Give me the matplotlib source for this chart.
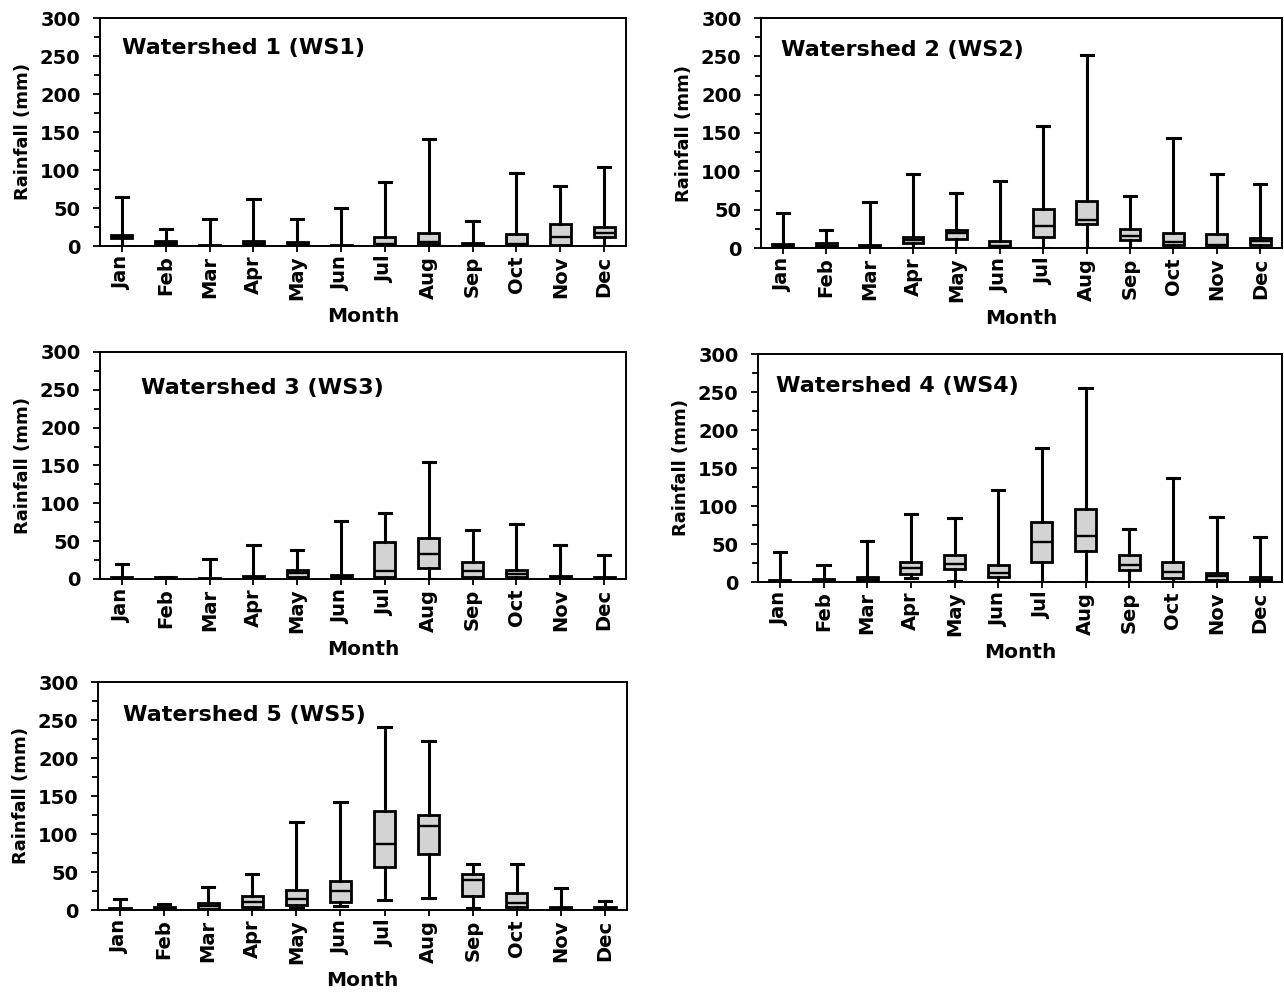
import matplotlib
matplotlib.use("Agg")
import matplotlib.pyplot as plt
from matplotlib.ticker import MultipleLocator

plt.rcParams["font.family"] = "DejaVu Sans"
plt.rcParams["font.weight"] = "bold"

months = ["Jan", "Feb", "Mar", "Apr", "May", "Jun",
          "Jul", "Aug", "Sep", "Oct", "Nov", "Dec"]

# box stats (mm)
ws1_whi = [65, 22, 35, 62, 35, 50, 84, 141, 33, 96, 79, 104]
ws1_q3 = [14, 6, 1, 6, 5, 1, 12, 17, 4, 16, 29, 25]
ws1_med = [12, 4, 0.5, 3, 3, 0.5, 3, 5, 2, 3, 12, 17]
ws1_q1 = [10, 2, 0, 1, 1, 0, 1, 2, 1, 1, 1, 12]
ws1_wlo = [0, 0, 0, 0, 0, 0, 0, 0, 0, 0, 0, 0]

ws2_whi = [46, 24, 60, 97, 72, 87, 159, 252, 68, 144, 97, 83]
ws2_q3 = [5, 6, 4, 14, 24, 9, 51, 61, 25, 20, 18, 13]
ws2_med = [3, 3, 2, 10, 20, 3, 29, 36, 16, 8, 4, 9]
ws2_q1 = [1, 1, 0, 6.5, 12, 1, 14, 31, 10, 3.5, 1, 3.5]
ws2_wlo = [0, 0, 0, 0, 0, 0, 0, 0, 0, 0, 0, 0]

ws3_whi = [20, 3, 26, 45, 38, 76, 87, 154, 65, 73, 45, 32]
ws3_q3 = [3, 2, 1, 4, 12, 5, 49, 54, 22, 12, 4, 3]
ws3_med = [1, 1, 0.5, 1, 8, 2, 10, 33, 11, 7, 2, 1]
ws3_q1 = [0, 0, 0, 0, 2, 0, 2, 14, 3, 2, 0, 0]
ws3_wlo = [0, 0, 0, 0, 0, 0, 0, 0, 0, 0, 0, 0]

ws4_whi = [39, 22, 54, 89, 84, 121, 176, 255, 70, 137, 85, 59]
ws4_q3 = [3, 4, 6, 26, 36, 22, 79, 96, 36, 26, 12, 7]
ws4_med = [1, 2, 3, 19, 24, 12, 52, 61, 23, 13, 8, 3]
ws4_q1 = [0, 0, 0, 10.5, 17, 6, 26, 41, 16, 5, 2, 0]
ws4_wlo = [0, 0, 0, 5, 1, 0, 0, 0, 0, 0, 0, 0]

ws5_whi = [14, 8, 30, 47, 116, 142, 241, 222, 61, 61, 29, 12]
ws5_q3 = [3, 4, 9, 18, 26, 38, 130, 125, 47, 22, 4, 4]
ws5_med = [1, 2, 5, 10, 15, 25, 87, 110, 39, 9, 1, 2]
ws5_q1 = [0, 0, 1, 3.5, 7, 10.5, 56, 74, 19, 3.5, 0, 0]
ws5_wlo = [0, 0, 0, 1, 3, 5, 13, 16, 2, 0, 0, 0]

titles = ["Watershed 1 (WS1)", "Watershed 2 (WS2)", "Watershed 3 (WS3)",
          "Watershed 4 (WS4)", "Watershed 5 (WS5)"]
series = [
    (ws1_wlo, ws1_q1, ws1_med, ws1_q3, ws1_whi),
    (ws2_wlo, ws2_q1, ws2_med, ws2_q3, ws2_whi),
    (ws3_wlo, ws3_q1, ws3_med, ws3_q3, ws3_whi),
    (ws4_wlo, ws4_q1, ws4_med, ws4_q3, ws4_whi),
    (ws5_wlo, ws5_q1, ws5_med, ws5_q3, ws5_whi),
]

W, H = 1284, 992
# panel frames in pixels: left, right, top, bottom
frames = [(100, 626, 18, 246), (761, 1282, 18, 248),
          (100, 626, 352, 579), (758, 1282, 354, 582),
          (98, 627, 682, 910)]
title_pos = [(0.042, 0.87), (0.038, 0.86), (0.078, 0.84),
             (0.034, 0.86), (0.047, 0.856)]

fig = plt.figure(figsize=(W / 100, H / 100), dpi=100)

for i, (l, r, t, b) in enumerate(frames):
    ax = fig.add_axes([l / W, 1 - b / H, (r - l) / W, (b - t) / H])
    wlo, q1, med, q3, whi = series[i]
    stats = []
    for k in range(12):
        stats.append({"whislo": wlo[k], "q1": q1[k], "med": med[k],
                      "q3": q3[k], "whishi": whi[k], "fliers": []})
    ax.bxp(stats, positions=range(1, 13), widths=0.48, capwidths=0.28,
           patch_artist=True, showfliers=False,
           boxprops=dict(facecolor="#d3d3d3", edgecolor="black", linewidth=2.0),
           medianprops=dict(color="black", linewidth=1.7),
           whiskerprops=dict(color="black", linewidth=2.2),
           capprops=dict(color="black", linewidth=2.2))
    ax.set_xlim(0.5, 12.5)
    ax.set_ylim(0, 300)
    ax.set_xticks(range(1, 13))
    ax.set_xticklabels(months, rotation=90, fontsize=14, fontweight="bold")
    ax.yaxis.set_major_locator(MultipleLocator(50))
    ax.yaxis.set_minor_locator(MultipleLocator(25))
    ax.tick_params(axis="y", which="major", direction="out", length=5,
                   width=1.3, labelsize=14, pad=9)
    ax.tick_params(axis="y", which="minor", direction="out", length=4,
                   width=1.3)
    ax.tick_params(axis="x", direction="out", length=4, width=1.3, pad=3)
    for s in ax.spines.values():
        s.set_linewidth(1.4)
    ax.set_xlabel("Month", fontsize=14.5, fontweight="bold", labelpad=5)
    ax.set_ylabel("Rainfall (mm)", fontsize=13, fontweight="bold", labelpad=6)
    ax.text(title_pos[i][0], title_pos[i][1], titles[i], transform=ax.transAxes,
            fontsize=16, fontweight="bold", va="center", ha="left")

fig.savefig("out.png", dpi=100)
